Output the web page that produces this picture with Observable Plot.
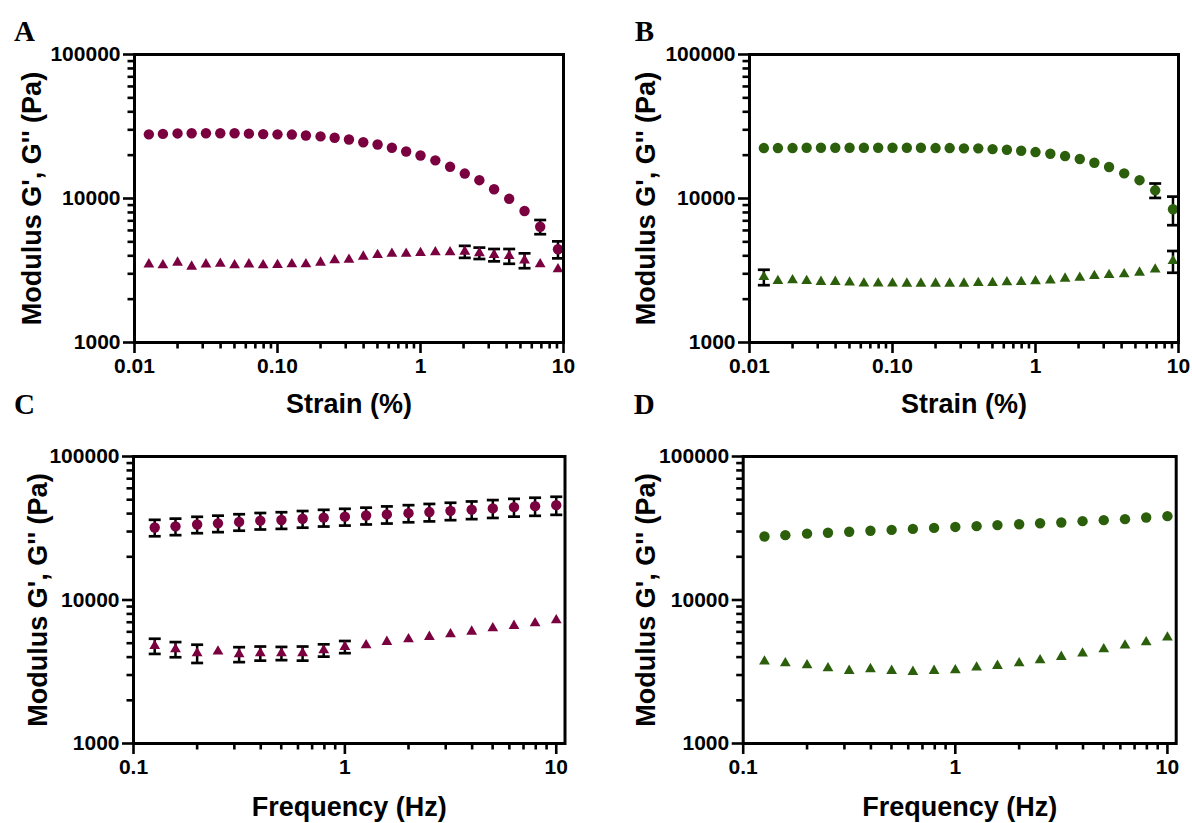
<!DOCTYPE html>
<html><head><meta charset="utf-8">
<script src="https://cdn.jsdelivr.net/npm/d3@7"></script>
<script src="https://cdn.jsdelivr.net/npm/@observablehq/plot@0.6"></script>
<style>
body{margin:0;background:#fff;}
#fig{position:relative;width:1192px;height:823px;overflow:hidden;background:#fff;}
#fig > div{position:absolute;}
</style></head><body><div id="fig"></div>
<script>
// ---------- data ----------
const strainX = [0.0126, 0.0158, 0.0200, 0.0251, 0.0316, 0.0398, 0.0501, 0.0631, 0.0794, 0.100,
  0.126, 0.158, 0.200, 0.251, 0.316, 0.398, 0.501, 0.631, 0.794, 1.00,
  1.27, 1.61, 2.04, 2.58, 3.27, 4.17, 5.34, 6.87, 9.15];
const freqX = [0.126, 0.158, 0.200, 0.251, 0.316, 0.398, 0.501, 0.631, 0.794, 1.00,
  1.26, 1.58, 2.00, 2.51, 3.16, 3.98, 5.01, 6.31, 7.94, 10.0];

// Panel A (strain sweep, maroon)
const aGp = [27900, 28100, 28300, 28400, 28400, 28400, 28400, 28200, 28000, 27900,
  27800, 27400, 27000, 26400, 25700, 24600, 23700, 22500, 21200, 19900,
  18400, 16600, 14900, 13400, 11600, 9950, 8190, 6370, 4440];
const aGpSd = [0,0,0,0,0,0,0,0,0,0, 0,0,0,0,0,0,0,0,0,0, 0,0,0,0,0,0,0,720,600];
const aGpp = [3490, 3440, 3590, 3370, 3490, 3530, 3440, 3490, 3440, 3460,
  3500, 3500, 3590, 3730, 3760, 3950, 4060, 4140, 4140, 4190,
  4240, 4240, 4280, 4180, 4060, 3990, 3720, 3500, 3230];
const aGppSd = [0,0,0,0,0,0,0,0,0,0, 0,0,0,0,0,0,0,0,0,0, 0,0,410,380,400,470,440,0,0];

// Panel B (strain sweep, green)
const bGp = [22400, 22400, 22400, 22500, 22500, 22500, 22500, 22500, 22500, 22500,
  22500, 22500, 22400, 22400, 22300, 22300, 22040, 21800, 21450, 21010,
  20450, 19710, 18800, 17700, 16540, 14950, 13400, 11400, 8415];
const bGpSd = [0,0,0,0,0,0,0,0,0,0, 0,0,0,0,0,0,0,0,0,0, 0,0,0,0,0,0,0,1310,1890];
const bGpp = [2850, 2680, 2710, 2680, 2640, 2640, 2610, 2570, 2570, 2570,
  2565, 2565, 2565, 2565, 2565, 2590, 2590, 2620, 2636, 2665,
  2700, 2780, 2820, 2900, 2950, 2980, 3060, 3220, 3685];
const bGppSd = [350,0,0,0,0,0,0,0,0,0, 0,0,0,0,0,0,0,0,0,0, 0,0,0,0,0,0,0,0,635];

// Panel C (frequency sweep, maroon)
const cGp = [32000, 32600, 33600, 34200, 35000, 35700, 36100, 36800, 37500, 38100,
  38800, 39500, 40300, 41000, 41800, 42600, 43500, 44400, 45100, 45800];
const cGpSd = [4200, 4300, 4400, 4500, 4600, 4700, 4800, 4900, 5000, 5100,
  5200, 5400, 5500, 5700, 5800, 6000, 6200, 6300, 6500, 6600];
const cGpp = [4790, 4540, 4260, 4380, 4190, 4260, 4260, 4260, 4470, 4720,
  4840, 5110, 5340, 5540, 5780, 6030, 6370, 6610, 6900, 7240];
const cGppSd = [580, 550, 620, 0, 500, 480, 450, 480, 440, 460, 0,0,0,0,0,0,0,0,0,0];

// Panel D (frequency sweep, green)
const dGp = [27700, 28300, 29000, 29400, 29900, 30400, 30800, 31300, 31800, 32300,
  32700, 33250, 33700, 34250, 34700, 35450, 36000, 36600, 37600, 38400];
const dGpp = [3730, 3630, 3510, 3350, 3210, 3300, 3210, 3160, 3210, 3240,
  3390, 3480, 3630, 3810, 4020, 4240, 4540, 4820, 5080, 5480];

// ticks
const yMajor = [1000, 10000, 100000];
const yMajorLabels = ["1000", "10000", "100000"];
const yMinor = [2000, 3000, 4000, 5000, 6000, 7000, 8000, 9000,
  20000, 30000, 40000, 50000, 60000, 70000, 80000, 90000];
const strainMajor = [0.01, 0.1, 1, 10];
const strainLabels = ["0.01", "0.10", "1", "10"];
const strainMinor = [0.02, 0.03, 0.04, 0.05, 0.06, 0.07, 0.08, 0.09,
  0.2, 0.3, 0.4, 0.5, 0.6, 0.7, 0.8, 0.9, 2, 3, 4, 5, 6, 7, 8, 9];
const freqMajor = [0.1, 1, 10];
const freqLabels = ["0.1", "1", "10"];
const freqMinor = [0.2, 0.3, 0.4, 0.5, 0.6, 0.7, 0.8, 0.9, 2, 3, 4, 5, 6, 7, 8, 9];

const maroon = "#7a0040";
const green = "#2c5f0b";
const yTitle = "Modulus G', G'' (Pa)";

// ---------- drawing ----------
const cap = {draw(ctx, size) { const w = Math.sqrt(size / Math.PI); ctx.moveTo(-w, 0); ctx.lineTo(w, 0); }};
const rows = (xs, ys, sds) => xs.map((x, i) => ({x, y: ys[i], sd: sds ? sds[i] : 0}));
const sans = "Liberation Sans, Arial, Helvetica, sans-serif";
const serif = "Liberation Serif, Times New Roman, serif";

function panel(p) {
  const gp = rows(p.x, p.gp, p.gpSd);
  const gpp = rows(p.x, p.gpp, p.gppSd);
  const bars = gp.concat(gpp).filter(d => d.sd > 0);
  const fmtX = d => p.xLabels[p.xMajor.indexOf(d)];
  const fmtY = d => yMajorLabels[yMajor.indexOf(d)];
  const svg = Plot.plot({
    width: p.width, height: p.height,
    marginLeft: p.ml, marginRight: p.mr, marginTop: p.mt, marginBottom: p.mb,
    style: {fontFamily: sans, background: "transparent", overflow: "visible", color: "black"},
    x: {type: "log", domain: p.xDomain},
    y: {type: "log", domain: [1000, 100000]},
    marks: [
      Plot.ruleX(bars, {x: "x", y1: d => d.y - d.sd, y2: d => d.y + d.sd, stroke: "black", strokeWidth: 2.5}),
      Plot.dot(bars, {x: "x", y: d => d.y + d.sd, symbol: cap, r: 6, stroke: "black", fill: "none", strokeWidth: 2.7}),
      Plot.dot(bars, {x: "x", y: d => d.y - d.sd, symbol: cap, r: 6, stroke: "black", fill: "none", strokeWidth: 2.7}),
      Plot.dot(gp, {x: "x", y: "y", r: 5.2, fill: p.color, symbol: "circle"}),
      Plot.dot(gpp, {x: "x", y: "y", r: 4, fill: p.color, symbol: "triangle"}),
      Plot.axisY({ticks: yMinor, tickSize: 6.5, tickFormat: () => "", strokeWidth: 2.6, label: null}),
      Plot.axisY({ticks: yMajor, tickSize: 11, tickPadding: 3, tickFormat: fmtY, strokeWidth: 2.6,
        fontSize: 21, fontWeight: "bold", label: null}),
      Plot.axisX({ticks: p.xMinor, tickSize: 6.5, tickFormat: () => "", strokeWidth: 2.6, label: null}),
      Plot.axisX({ticks: p.xMajor, tickSize: 11, tickPadding: 5, tickFormat: fmtX, strokeWidth: 2.6,
        fontSize: 21, fontWeight: "bold", label: null}),
      Plot.frame({stroke: "black", strokeWidth: 3}),
      Plot.text([p.xTitle], {text: d => d, frameAnchor: "bottom", dy: p.titleDy, fontSize: 27,
        fontWeight: "bold", lineAnchor: "middle", textAnchor: "middle", fill: "black"}),
      Plot.text([yTitle], {text: d => d, frameAnchor: "left", dx: p.yTitleDx, rotate: -90, fontSize: 27,
        fontWeight: "bold", lineAnchor: "middle", textAnchor: "middle", fill: "black"}),
      Plot.text([p.letter], {text: d => d, frameAnchor: "top-left", dx: p.letterDx, dy: p.letterDy,
        fontSize: 29, fontWeight: "bold", fontFamily: serif, lineAnchor: "middle", textAnchor: "middle", fill: "black"})
    ]
  });
  const holder = document.createElement("div");
  holder.style.left = p.left + "px";
  holder.style.top = p.top + "px";
  holder.appendChild(svg);
  document.getElementById("fig").appendChild(holder);
}

panel({letter: "A", left: 0, top: 0, width: 596, height: 420, ml: 134, mr: 33, mt: 54, mb: 78,
  x: strainX, gp: aGp, gpSd: aGpSd, gpp: aGpp, gppSd: aGppSd, color: maroon,
  xDomain: [0.01, 10], xMajor: strainMajor, xLabels: strainLabels, xMinor: strainMinor,
  xTitle: "Strain (%)", titleDy: 62, yTitleDx: -102, letterDx: -110, letterDy: -23});
panel({letter: "B", left: 596, top: 0, width: 596, height: 420, ml: 153, mr: 14, mt: 54, mb: 78,
  x: strainX, gp: bGp, gpSd: bGpSd, gpp: bGpp, gppSd: bGppSd, color: green,
  xDomain: [0.01, 10], xMajor: strainMajor, xLabels: strainLabels, xMinor: strainMinor,
  xTitle: "Strain (%)", titleDy: 62, yTitleDx: -103, letterDx: -105, letterDy: -23});
panel({letter: "C", left: 0, top: 410, width: 596, height: 413, ml: 133, mr: 31.5, mt: 46, mb: 80,
  x: freqX, gp: cGp, gpSd: cGpSd, gpp: cGpp, gppSd: cGppSd, color: maroon,
  xDomain: [0.1, 11], xMajor: freqMajor, xLabels: freqLabels, xMinor: freqMinor,
  xTitle: "Frequency (Hz)", titleDy: 64, yTitleDx: -95, letterDx: -109, letterDy: -52});
panel({letter: "D", left: 596, top: 410, width: 596, height: 413, ml: 146.7, mr: 16.3, mt: 46, mb: 80,
  x: freqX, gp: dGp, gpSd: null, gpp: dGpp, gppSd: null, color: green,
  xDomain: [0.1, 11], xMajor: freqMajor, xLabels: freqLabels, xMinor: freqMinor,
  xTitle: "Frequency (Hz)", titleDy: 64, yTitleDx: -97, letterDx: -99, letterDy: -52});
</script></body></html>
